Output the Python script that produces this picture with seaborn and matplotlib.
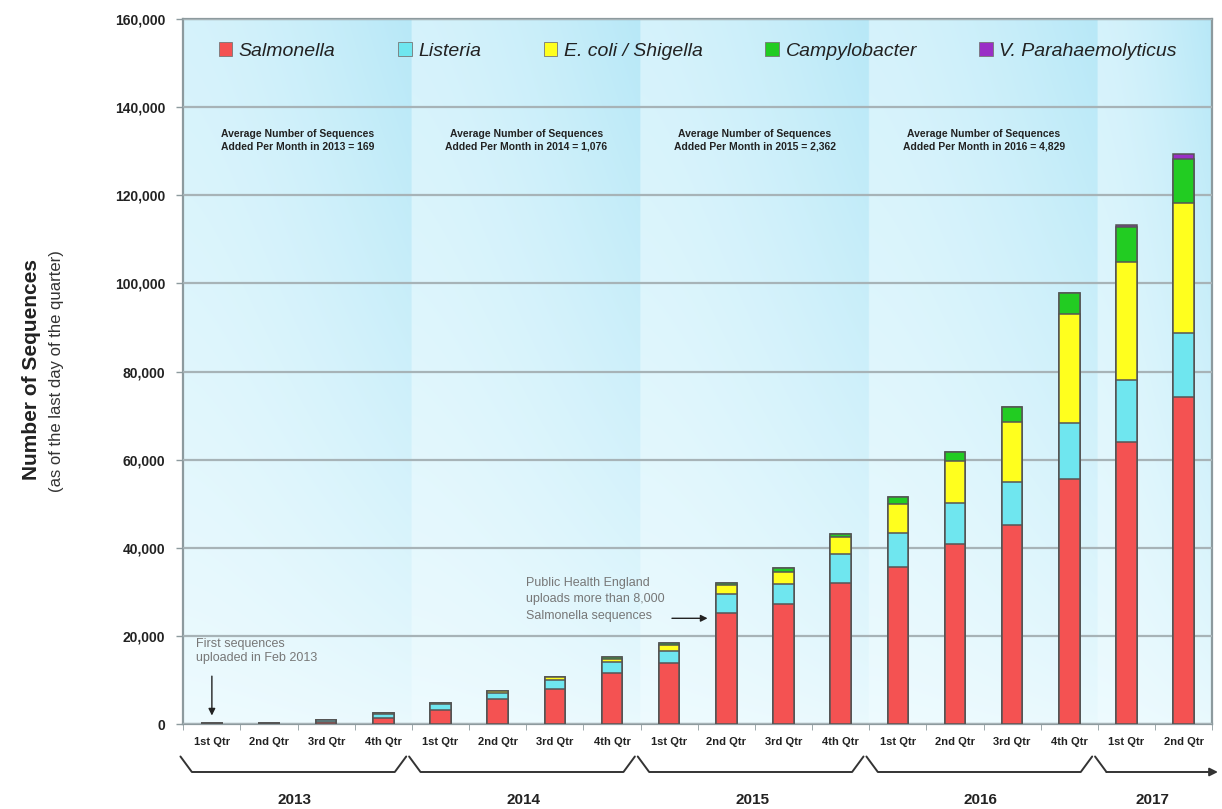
import numpy as np
import pandas as pd
import matplotlib
matplotlib.use("Agg")
import matplotlib.pyplot as plt
import matplotlib.transforms as mtransforms
from matplotlib.patches import Patch
from matplotlib.ticker import FuncFormatter, FixedLocator
import seaborn as sns

#########################################################
# Data
#########################################################
quarters = ["1st Qtr", "2nd Qtr", "3rd Qtr", "4th Qtr"] * 4 + ["1st Qtr", "2nd Qtr"]
years = ["2013", "2014", "2015", "2016", "2017"]
year_first_bar = [0, 4, 8, 12, 16]

species = ["Salmonella", "Listeria", "E. coli / Shigella", "Campylobacter", "V. Parahaemolyticus"]
salmonella = [150, 200, 500, 1300, 3200, 5700, 7900, 11600, 13800, 25200, 27200, 32000,
              35700, 40900, 45200, 55600, 64000, 74200]
listeria = [100, 150, 350, 900, 1300, 1300, 2100, 2500, 2800, 4300, 4600, 6600,
            7600, 9200, 9700, 12700, 14100, 14500]
ecoli = [0, 0, 50, 200, 300, 500, 600, 650, 1300, 2000, 2700, 3800,
         6700, 9600, 13700, 24700, 26800, 29600]
campylobacter = [0, 0, 0, 0, 0, 0, 100, 400, 600, 500, 1000, 800,
                 1500, 2100, 3400, 4800, 7800, 10000]
vparahaemolyticus = [0, 0, 0, 0, 0, 0, 0, 0, 0, 0, 0, 0,
                     0, 0, 0, 0, 500, 1100]

avg_per_month = ["169", "1,076", "2,362", "4,829"]

colors = ["#f45252", "#6fe6ef", "#ffff1e", "#22cc22", "#9a2fc6"]

df = pd.DataFrame({
    "pos": list(range(len(quarters))),
    "Salmonella": salmonella,
    "Listeria": listeria,
    "E. coli / Shigella": ecoli,
    "Campylobacter": campylobacter,
    "V. Parahaemolyticus": vparahaemolyticus,
})
cum = df[species].cumsum(axis=1)

#########################################################
# Figure
#########################################################
sns.set_style("white")
plt.rcParams["font.family"] = ["Liberation Sans", "DejaVu Sans"]

fig = plt.figure(figsize=(12.22, 8.09), dpi=100)
ax = fig.add_axes([0.150, 0.105, 0.842, 0.8715])

n = len(quarters)
ax.set_xlim(-0.5, n - 0.5)
ax.set_ylim(0, 160000)

# background: light cyan, fading down, each year lighter on its left side
nx, ny = 720, 200
xs = np.linspace(-0.5, n - 0.5, nx)
ys = np.linspace(0, 1, ny)
bounds = [-0.5, 3.5, 7.5, 11.5, 15.5, n - 0.5]
h = np.zeros(nx)
for a, b in zip(bounds[:-1], bounds[1:]):
    m = (xs >= a) & (xs <= b)
    h[m] = 0.5 + 0.5 * ((xs[m] - a) / (b - a)) ** 1.5
v = 0.15 + 0.85 * ys ** 0.8
t = v[:, None] * h[None, :]
light = np.array([0.95, 0.99, 1.0])
dark = np.array([0.72, 0.91, 0.97])
img = light[None, None, :] * (1 - t[..., None]) + dark[None, None, :] * t[..., None]
ax.imshow(img, extent=[-0.5, n - 0.5, 0, 160000], origin="lower",
          aspect="auto", zorder=0, interpolation="bilinear")

# stacked bars: draw the tallest cumulative layer first
for sp, c in reversed(list(zip(species, colors))):
    sns.barplot(x=df["pos"], y=cum[sp], color=c, width=0.36, saturation=1,
                edgecolor="#555555", linewidth=1.1, ax=ax, zorder=3)

ax.set_xlim(-0.5, n - 0.5)
ax.set_ylim(0, 160000)

# grid and spines
ax.set_axisbelow(False)
ax.yaxis.grid(True, color="#a7b3b7", linewidth=1.6, zorder=1)
ax.xaxis.grid(False)
for s in ax.spines.values():
    s.set_color("#8d9a9e")
    s.set_linewidth(1.6)
    s.set_visible(True)

# ticks
ax.set_yticks(np.arange(0, 160001, 20000))
ax.yaxis.set_major_formatter(FuncFormatter(lambda v, p: f"{int(v):,}"))
ax.tick_params(axis="y", length=5, width=1, color="#8d9a9e", pad=8,
               labelsize=10, left=True)
for lab in ax.get_yticklabels():
    lab.set_fontweight("bold")
    lab.set_color("#222222")

ax.set_xticks(range(n))
ax.set_xticklabels(quarters, fontsize=8, fontweight="bold", color="#222222")
ax.tick_params(axis="x", length=0, pad=9)
ax.xaxis.set_minor_locator(FixedLocator(np.arange(-0.5, n, 1.0)))
ax.tick_params(axis="x", which="minor", length=4, color="#8d9a9e", bottom=True)
ax.set_xlabel("")
ax.set_ylabel("")

# y axis titles
fig.text(0.026, 0.543, "Number of Sequences", rotation=90, fontsize=15,
         fontweight="bold", ha="center", va="center", color="#222222")
fig.text(0.046, 0.541, "(as of the last day of the quarter)", rotation=90,
         fontsize=12, ha="center", va="center", color="#333333")

# legend
handles = [Patch(facecolor=c, edgecolor="#777777", linewidth=0.6) for c in colors]
leg = ax.legend(handles, species, loc="upper center", bbox_to_anchor=(0.5, 0.992),
                ncol=5, frameon=False, fontsize=14, handlelength=0.7,
                handleheight=0.7, handletextpad=0.35, columnspacing=3.2)
for txt in leg.get_texts():
    txt.set_fontstyle("italic")
    txt.set_color("#222222")

# yearly average notes
for i, avg in enumerate(avg_per_month):
    xc = year_first_bar[i] + 1.5
    ax.text(xc, 132500, f"Average Number of Sequences\nAdded Per Month in {years[i]} = {avg}",
            ha="center", va="center", fontsize=7.5, fontweight="bold",
            color="#222222", linespacing=1.35, zorder=4)

# callouts
ax.text(-0.28, 19500, "First sequences\nuploaded in Feb 2013", ha="left", va="top",
        fontsize=9, color="#777777", linespacing=1.25, zorder=4)
ax.annotate("", xy=(0, 1300), xytext=(0, 11500),
            arrowprops=dict(arrowstyle="-|>", color="#222222", lw=1.0,
                            mutation_scale=10), zorder=4)
ax.text(5.5, 33400, "Public Health England\nuploads more than 8,000\nSalmonella sequences",
        ha="left", va="top", fontsize=9, color="#777777", linespacing=1.5, zorder=4)
ax.annotate("", xy=(8.72, 24000), xytext=(8.0, 24000),
            arrowprops=dict(arrowstyle="-|>", color="#222222", lw=1.0,
                            mutation_scale=10), zorder=4)

# year braces below the quarter labels
trans = mtransforms.blended_transform_factory(ax.transData, ax.transAxes)
y_top, y_bot = -0.046, -0.068
for i, yr in enumerate(years):
    x0 = year_first_bar[i] - 0.55
    if yr == "2017":
        ax.plot([x0, x0 + 0.2], [y_top, y_bot], transform=trans, color="#333333",
                lw=1.4, clip_on=False)
        ax.annotate("", xy=(n - 0.4, y_bot), xytext=(x0 + 0.2, y_bot),
                    xycoords=trans, textcoords=trans,
                    arrowprops=dict(arrowstyle="-|>", color="#333333", lw=1.4,
                                    mutation_scale=12, shrinkA=0, shrinkB=0),
                    annotation_clip=False)
        xc = 16.45
    else:
        x1 = year_first_bar[i] + 3.4
        ax.plot([x0, x0 + 0.2, x1 - 0.2, x1], [y_top, y_bot, y_bot, y_top],
                transform=trans, color="#333333", lw=1.4, clip_on=False)
        xc = year_first_bar[i] + 1.45
    ax.text(xc, -0.108, yr, transform=trans, ha="center", va="center",
            fontsize=11, fontweight="bold", color="#222222")

fig.savefig("out.png", dpi=100)
